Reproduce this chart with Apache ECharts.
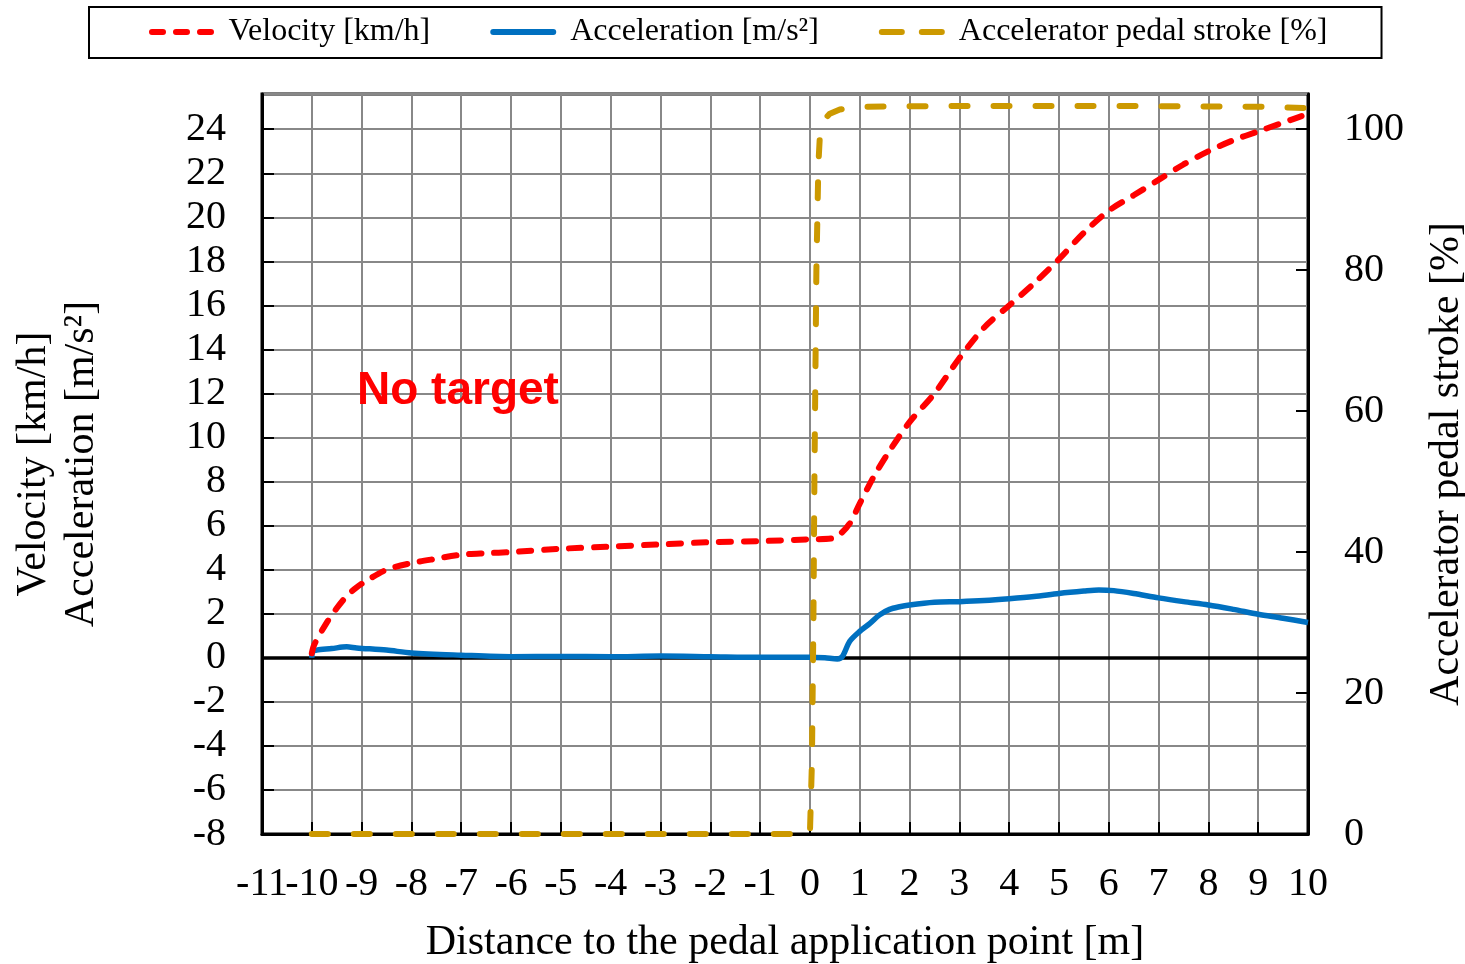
<!DOCTYPE html>
<html><head><meta charset="utf-8">
<script src="https://cdn.jsdelivr.net/npm/echarts@6/dist/echarts.min.js"></script>
<style>html,body{margin:0;padding:0;background:#fff}#c{width:1465px;height:964px}</style>
</head><body><div id="c"></div>
<script>
const velX = [-10, -9.95, -9.7, -9.5, -9.3, -9.1, -8.9, -8.5, -8, -7.5, -7, -6.5, -6, -5, -4, -3, -2, -1, 0, 0.45, 0.6, 0.8, 1.0, 1.3, 1.6, 2.0, 2.5, 3.0, 3.5, 4.0, 4.5, 5.0, 5.5, 6.0, 6.5, 7.0, 7.5, 8.0, 8.5, 9.0, 9.5, 10];
const velY = [0.2, 0.6, 1.6, 2.25, 2.8, 3.2, 3.5, 4.0, 4.3, 4.5, 4.68, 4.75, 4.8, 4.95, 5.05, 5.15, 5.25, 5.3, 5.38, 5.42, 5.6, 6.1, 7.0, 8.3, 9.4, 10.7, 12.0, 13.6, 15.0, 16.0, 17.0, 18.1, 19.3, 20.3, 21.0, 21.7, 22.4, 23.0, 23.5, 23.9, 24.3, 24.7];
const accX = [-10, -9.98, -9.9, -9.6, -9.3, -9.1, -8.5, -8, -7, -6, -5, -4, -3, -2, -1, 0, 0.3, 0.55, 0.65, 0.8, 1.0, 1.2, 1.4, 1.6, 1.8, 2.0, 2.5, 3.0, 3.5, 4.0, 4.5, 5.0, 5.5, 5.8, 6.1, 6.5, 7.0, 7.5, 8.0, 8.5, 9.0, 9.5, 10];
const accY = [0.0, 0.3, 0.35, 0.42, 0.5, 0.45, 0.35, 0.22, 0.12, 0.05, 0.06, 0.05, 0.08, 0.05, 0.02, 0.03, 0.0, -0.05, 0.05, 0.75, 1.2, 1.55, 1.95, 2.2, 2.32, 2.4, 2.52, 2.55, 2.6, 2.68, 2.78, 2.92, 3.03, 3.08, 3.05, 2.92, 2.72, 2.55, 2.4, 2.2, 1.98, 1.8, 1.6];
const pedX = [-10, -5, 0, 0.04, 0.07, 0.09, 0.13, 0.17, 0.2, 0.3, 0.4, 0.6, 1.0, 3.0, 6.0, 9.0, 10];
const pedY = [0, 0, 0, 10, 30, 50, 80, 95, 99, 101.5, 102.2, 102.8, 103.2, 103.3, 103.3, 103.2, 103.0];
const xTicks = {min: -11, max: 10, step: 1};
const leftTicks = {min: -8, max: 25.6, step: 2};
const rightTicks = {min: 0, max: 105, step: 20};
const seriesNames = ['Velocity [km/h]', 'Acceleration [m/s²]', 'Accelerator pedal stroke [%]'];
const xName = 'Distance to the pedal application point [m]';
const leftName = 'Velocity [km/h]\nAcceleration [m/s²]';
const rightName = 'Accelerator pedal stroke [%]';
const annotation = 'No target';

const pairs = (xs, ys) => xs.map((x, i) => [x, ys[i]]);
const serif = 'Liberation Serif, Times New Roman, serif';
const icons = [
  'path://M3,0h11a3,3 0 0 1 0,6h-11a3,3 0 0 1 0,-6z M27,0h11a3,3 0 0 1 0,6h-11a3,3 0 0 1 0,-6z M51,0h11a3,3 0 0 1 0,6h-11a3,3 0 0 1 0,-6z',
  'path://M3,0h60a3,3 0 0 1 0,6h-60a3,3 0 0 1 0,-6z',
  'path://M3,0h20a3,3 0 0 1 0,6h-20a3,3 0 0 1 0,-6z M43,0h20a3,3 0 0 1 0,6h-20a3,3 0 0 1 0,-6z'
];
const xLabelStyle = {fontFamily: serif, fontSize: 40, color: '#000', margin: 30, showMinLabel: true, showMaxLabel: true, hideOverlap: false};

const chart = echarts.init(document.getElementById('c'));
chart.setOption({
  animation: false,
  backgroundColor: '#fff',
  grid: {left: 262, right: 157, top: 94, bottom: 130, show: true, borderColor: '#000', borderWidth: 3, containLabel: false, outerBoundsMode: 'none'},
  legend: {
    top: 7, left: 89,
    data: seriesNames.map((n, i) => ({name: n, icon: icons[i]})),
    itemWidth: 66, itemHeight: 6, itemGap: 60,
    borderColor: '#000', borderWidth: 2, borderRadius: 0,
    padding: [9, 54, 10, 60],
    textStyle: {fontFamily: serif, fontSize: 32, color: '#000', padding: [0, 0, 0, 9]}
  },
  xAxis: [{
    type: 'value', min: xTicks.min, max: xTicks.max, interval: xTicks.step,
    name: xName, nameLocation: 'middle', nameGap: 88,
    nameTextStyle: {fontFamily: serif, fontSize: 42, color: '#000'},
    axisLine: {onZero: false, lineStyle: {color: '#000', width: 3}},
    axisTick: {inside: true, length: 12, lineStyle: {color: '#000', width: 2}},
    axisLabel: Object.assign({}, xLabelStyle, {formatter: v => (v === -10 ? '' : String(v))}),
    splitLine: {show: true, lineStyle: {color: '#888', width: 2}}
  }, {
    type: 'value', min: xTicks.min, max: xTicks.max, interval: xTicks.step, position: 'bottom',
    axisLine: {show: false}, axisTick: {show: false}, splitLine: {show: false},
    axisLabel: Object.assign({}, xLabelStyle, {formatter: v => (v === -10 ? String(v) : '')})
  }],
  yAxis: [{
    type: 'value', min: leftTicks.min, max: leftTicks.max, interval: leftTicks.step,
    name: leftName, nameLocation: 'middle', nameGap: 156, nameRotate: 90,
    nameTextStyle: {fontFamily: serif, fontSize: 42, color: '#000', lineHeight: 48},
    axisLine: {onZero: false, lineStyle: {color: '#000', width: 3}},
    axisTick: {inside: true, length: 12, lineStyle: {color: '#000', width: 2}},
    axisLabel: {fontFamily: serif, fontSize: 40, color: '#000', margin: 36, showMaxLabel: false, hideOverlap: false},
    splitLine: {show: true, lineStyle: {color: '#888', width: 2}}
  }, {
    type: 'value', position: 'right', min: rightTicks.min, max: rightTicks.max, interval: rightTicks.step,
    name: rightName, nameLocation: 'middle', nameGap: 118, nameRotate: 90,
    nameTextStyle: {fontFamily: serif, fontSize: 42, color: '#000'},
    axisLine: {onZero: false, lineStyle: {color: '#000', width: 3}},
    axisTick: {inside: true, length: 12, lineStyle: {color: '#000', width: 2}},
    axisLabel: {fontFamily: serif, fontSize: 40, color: '#000', margin: 36, showMaxLabel: false, hideOverlap: false},
    splitLine: {show: false}
  }],
  series: [{
    name: seriesNames[0], type: 'line', xAxisIndex: 0, yAxisIndex: 0, data: pairs(velX, velY),
    showSymbol: false, symbol: 'none', smooth: 0.3, z: 4,
    lineStyle: {color: '#FF0000', width: 6, type: [12, 13], cap: 'round'},
    itemStyle: {color: '#FF0000'}
  }, {
    name: seriesNames[1], type: 'line', xAxisIndex: 0, yAxisIndex: 0, data: pairs(accX, accY),
    showSymbol: false, symbol: 'none', smooth: 0.3, z: 3,
    lineStyle: {color: '#0070C0', width: 5.5},
    itemStyle: {color: '#0070C0'},
    markLine: {silent: true, symbol: 'none', label: {show: false}, z: 2,
      lineStyle: {color: '#000', width: 3.5, type: 'solid'},
      data: [{yAxis: 0}]}
  }, {
    name: seriesNames[2], type: 'line', xAxisIndex: 0, yAxisIndex: 1, data: pairs(pedX, pedY),
    showSymbol: false, symbol: 'none', smooth: false, z: 5,
    lineStyle: {color: '#CC9900', width: 6, type: [16, 26], cap: 'round'},
    itemStyle: {color: '#CC9900'}
  }],
  graphic: [{
    type: 'text', left: 357, top: 368, z: 10,
    style: {text: annotation, fill: '#FF0000', font: 'bold 46px Liberation Sans, Arial, sans-serif'}
  }]
});
</script></body></html>
